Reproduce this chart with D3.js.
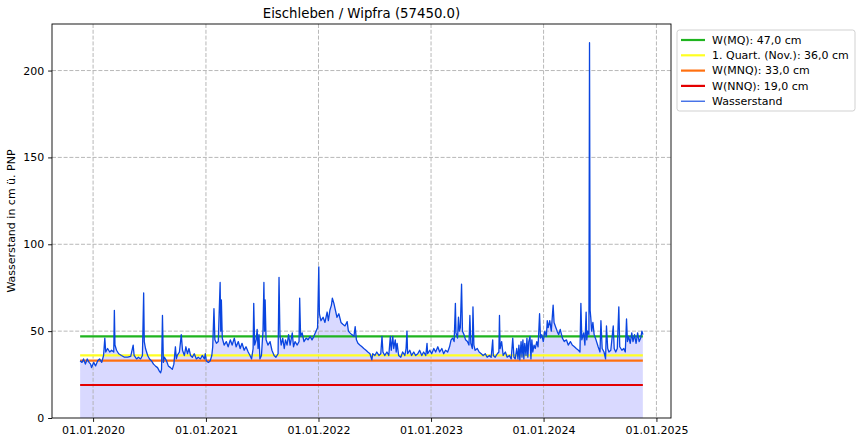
<!DOCTYPE html>
<html><head><meta charset="utf-8">
<script src="https://cdn.jsdelivr.net/npm/d3@7/dist/d3.min.js"></script>
<style>body{margin:0;background:#fff}svg{display:block;font-family:"DejaVu Sans",sans-serif}</style>
</head><body><svg id="c" width="863" height="444"></svg>
<script>
const title = "Eischleben / Wipfra (57450.0)";
const yLabel = "Wasserstand in cm ü. PNP";
const xTickDates = ["2020-01-01","2021-01-01","2022-01-01","2023-01-01","2024-01-01","2025-01-01"];
const yTicks = [0,50,100,150,200];
const refNames = ["W(MQ): 47,0 cm","1. Quart. (Nov.): 36,0 cm","W(MNQ): 33,0 cm","W(NNQ): 19,0 cm"];
const refValues = [47,36,33,19];
const refColors = ["#1fb41f","#ffff22","#ff7010","#e40000"];
const seriesName = "Wasserstand";
const dates = ["2019-11-20","2019-11-26","2019-12-01","2019-12-07","2019-12-13","2019-12-19","2019-12-24","2019-12-27","2020-01-03","2020-01-09","2020-01-16","2020-01-22","2020-01-29","2020-02-04","2020-02-08","2020-02-11","2020-02-17","2020-02-24","2020-03-01","2020-03-08","2020-03-10","2020-03-12","2020-03-17","2020-03-24","2020-04-02","2020-04-12","2020-04-22","2020-05-02","2020-05-10","2020-05-13","2020-05-21","2020-05-27","2020-06-03","2020-06-09","2020-06-13","2020-06-15","2020-06-19","2020-06-26","2020-07-02","2020-07-08","2020-07-15","2020-07-21","2020-07-28","2020-08-03","2020-08-07","2020-08-10","2020-08-13","2020-08-16","2020-08-19","2020-08-26","2020-09-01","2020-09-08","2020-09-14","2020-09-19","2020-09-24","2020-09-27","2020-09-30","2020-10-07","2020-10-13","2020-10-17","2020-10-23","2020-10-28","2020-11-02","2020-11-07","2020-11-12","2020-11-18","2020-11-24","2020-12-01","2020-12-07","2020-12-14","2020-12-20","2020-12-27","2020-12-30","2021-01-02","2021-01-09","2021-01-15","2021-01-20","2021-01-23","2021-01-27","2021-01-30","2021-02-04","2021-02-10","2021-02-16","2021-02-18","2021-02-20","2021-02-23","2021-03-01","2021-03-08","2021-03-14","2021-03-21","2021-03-27","2021-04-03","2021-04-09","2021-04-16","2021-04-22","2021-04-28","2021-05-05","2021-05-11","2021-05-18","2021-05-24","2021-05-29","2021-06-03","2021-06-05","2021-06-08","2021-06-13","2021-06-16","2021-06-19","2021-06-22","2021-06-25","2021-06-30","2021-07-05","2021-07-08","2021-07-10","2021-07-12","2021-07-15","2021-07-21","2021-07-28","2021-08-03","2021-08-10","2021-08-16","2021-08-23","2021-08-26","2021-08-29","2021-09-02","2021-09-07","2021-09-12","2021-09-16","2021-09-21","2021-09-26","2021-10-01","2021-10-08","2021-10-12","2021-10-17","2021-10-24","2021-10-30","2021-11-01","2021-11-04","2021-11-09","2021-11-15","2021-11-22","2021-11-28","2021-12-05","2021-12-11","2021-12-17","2021-12-24","2021-12-29","2022-01-02","2022-01-04","2022-01-09","2022-01-16","2022-01-22","2022-01-29","2022-02-02","2022-02-07","2022-02-12","2022-02-15","2022-02-20","2022-02-25","2022-03-02","2022-03-08","2022-03-15","2022-03-21","2022-03-28","2022-04-04","2022-04-08","2022-04-13","2022-04-19","2022-04-26","2022-04-30","2022-05-04","2022-05-09","2022-05-15","2022-05-22","2022-05-28","2022-06-04","2022-06-10","2022-06-17","2022-06-23","2022-06-26","2022-07-03","2022-07-09","2022-07-16","2022-07-22","2022-07-26","2022-07-29","2022-08-04","2022-08-11","2022-08-17","2022-08-22","2022-08-25","2022-08-30","2022-09-02","2022-09-07","2022-09-10","2022-09-13","2022-09-18","2022-09-25","2022-10-01","2022-10-08","2022-10-12","2022-10-15","2022-10-17","2022-10-24","2022-10-30","2022-11-06","2022-11-12","2022-11-19","2022-11-25","2022-12-02","2022-12-08","2022-12-15","2022-12-19","2022-12-21","2022-12-28","2023-01-03","2023-01-10","2023-01-16","2023-01-23","2023-01-29","2023-02-05","2023-02-11","2023-02-17","2023-02-24","2023-03-02","2023-03-07","2023-03-12","2023-03-17","2023-03-21","2023-03-23","2023-03-28","2023-03-31","2023-04-03","2023-04-06","2023-04-10","2023-04-13","2023-04-18","2023-04-23","2023-04-29","2023-05-04","2023-05-07","2023-05-10","2023-05-15","2023-05-17","2023-05-20","2023-05-24","2023-05-31","2023-06-06","2023-06-13","2023-06-19","2023-06-26","2023-07-02","2023-07-09","2023-07-15","2023-07-20","2023-07-22","2023-07-28","2023-08-04","2023-08-09","2023-08-11","2023-08-13","2023-08-18","2023-08-23","2023-08-30","2023-09-05","2023-09-12","2023-09-18","2023-09-23","2023-09-27","2023-10-01","2023-10-06","2023-10-10","2023-10-13","2023-10-16","2023-10-20","2023-10-23","2023-10-26","2023-10-29","2023-11-01","2023-11-05","2023-11-08","2023-11-11","2023-11-14","2023-11-18","2023-11-21","2023-11-24","2023-11-27","2023-12-01","2023-12-05","2023-12-10","2023-12-14","2023-12-17","2023-12-19","2023-12-22","2023-12-26","2023-12-31","2024-01-05","2024-01-10","2024-01-13","2024-01-16","2024-01-21","2024-01-26","2024-02-01","2024-02-04","2024-02-10","2024-02-14","2024-02-19","2024-02-24","2024-03-02","2024-03-08","2024-03-15","2024-03-21","2024-03-28","2024-04-03","2024-04-10","2024-04-16","2024-04-23","2024-04-28","2024-05-01","2024-05-04","2024-05-10","2024-05-14","2024-05-18","2024-05-20","2024-05-23","2024-05-27","2024-05-29","2024-05-31","2024-06-02","2024-06-05","2024-06-09","2024-06-13","2024-06-19","2024-06-26","2024-07-02","2024-07-05","2024-07-09","2024-07-15","2024-07-20","2024-07-23","2024-07-27","2024-07-31","2024-08-06","2024-08-14","2024-08-17","2024-08-22","2024-08-27","2024-09-01","2024-09-04","2024-09-11","2024-09-17","2024-09-22","2024-09-26","2024-09-29","2024-10-03","2024-10-08","2024-10-13","2024-10-17","2024-10-22","2024-10-27","2024-11-01","2024-11-06","2024-11-11","2024-11-15","2024-11-18"];
const levels = [33,32,34,31,34,32,31,29,32,30,33,34,32,36,46,38,40,38,39,38,62,42,39,37,36,35,35,35.5,42,36,34,35,34,36,72,44,40,36,34,33,31,30,29,27,26,28,59,32,35,33,30,29,28,31,41,34,36,38,48,39,36,41,37,40,36,35,37,34,35,34,36,34,37,33,32,33,36,41,63,45,43,44,78,50,68,46,42,44,41,45,42,46,41,44,40,43,39,41,38,36,34,40,66,42,45,51,40,48,34,36,50,78,50,68,45,42,44,39,36,35,37,81,48,42,46,40,45,42,48,42,49,41,44,42,44,69,47,49,44,46,45,47,45,47,50,52,87,60,56,58,55,61,56,62,65,69,66,62,58,60,55,54,53,55.5,50,49,48,47,52.6,45,43,42,41,40,39,38,37,33.5,37,36,38,36,37,47,38,36,38,36,47,39,47,40,45,38,43,36,35,38,36,40,50,37,39,36,38,36,37,39,36,38,36,43,37,39,37,40,38,41,38,40,37,39,38,41,45,46,44,66,49,46,58,50,52,77,50,48,45,44,42,59,43,40,64,42,39,40,38,37,36,37,35,36,35,45,36,35,37,38,59,40,44,36,38,35,36,34,46,35,34,40,34,42,33.5,44,35,45,34,43,36,46,35,44,47,34,45,38,42,40,44,41,52,60,46,48,44,50,47,56,52,56,50,65,55,52,50,48,51,46,44,45,42,44,42,41,40,39,38,66,45,49,42,61,45,50,48,216,62,58,50,55,48,45,41,38,56,40,38,34,53,40,38,39,53,40,38,40,64,41,39,40,38,57,44,47,43,49,44,48,43,49,44,46,50,48];

const parse = d3.timeParse("%Y-%m-%d");
const data = dates.map((d,i)=>({t:parse(d), v:levels[i]}));

const svg = d3.select("#c");
const L=52, R=671, T=24, B=418;
const FS = 11;
const t0 = data[0].t, t1 = data[data.length-1].t;
const span = t1 - t0;
const x = d3.scaleTime().domain([new Date(+t0 - span*0.05), new Date(+t1 + span*0.05)]).range([L,R]);
const vmax = d3.max(levels);
const y = d3.scaleLinear().domain([0, vmax*1.05]).range([B,T]);

// fill
svg.append("path").datum(data)
  .attr("d", d3.area().x(d=>x(d.t)).y0(y(0)).y1(d=>y(d.v)))
  .attr("fill","rgba(0,0,255,0.15)");

// grid
const xt = xTickDates.map(parse);
const gridStyle = s => s.attr("stroke","#b0b0b0").attr("stroke-width",0.9).attr("stroke-dasharray","4,1.8");
svg.append("g").selectAll("line").data(xt).join("line")
  .attr("x1",d=>x(d)).attr("x2",d=>x(d)).attr("y1",T).attr("y2",B).call(gridStyle);
svg.append("g").selectAll("line").data(yTicks.filter(v=>v>0)).join("line")
  .attr("x1",L).attr("x2",R).attr("y1",d=>y(d)).attr("y2",d=>y(d)).call(gridStyle);

// reference lines
refValues.forEach((v,i)=>{
  svg.append("line").attr("x1",x(t0)).attr("x2",x(t1)).attr("y1",y(v)).attr("y2",y(v))
    .attr("stroke",refColors[i]).attr("stroke-width",2.2);
});

// series
svg.append("path").datum(data)
  .attr("d", d3.line().x(d=>x(d.t)).y(d=>y(d.v)))
  .attr("fill","none").attr("stroke","#0a45e0").attr("stroke-width",1.3).attr("stroke-linejoin","round");

// axes
const xAxis = d3.axisBottom(x).tickValues(xt).tickFormat(d3.timeFormat("%d.%m.%Y")).tickSizeOuter(0).tickSize(3.9).tickPadding(3.9);
const gx = svg.append("g").attr("transform",`translate(0,${B})`).call(xAxis);
const yAxis = d3.axisLeft(y).tickValues(yTicks).tickSizeOuter(0).tickSize(3.9).tickPadding(3.9);
const gy = svg.append("g").attr("transform",`translate(${L},0)`).call(yAxis);
[gx,gy].forEach(g=>{
  g.select(".domain").remove();
  g.selectAll("text").attr("font-size",FS).attr("font-family","DejaVu Sans").attr("fill","#000");
  g.selectAll("line").attr("stroke","#000").attr("stroke-width",0.9);
});
svg.append("rect").attr("x",L).attr("y",T).attr("width",R-L).attr("height",B-T)
  .attr("fill","none").attr("stroke","#000").attr("stroke-width",0.9);

// title & label
svg.append("text").attr("x",(L+R)/2).attr("y",18).attr("text-anchor","middle")
  .attr("font-size",13.3).text(title);
svg.append("text").attr("transform",`translate(15,${(T+B)/2}) rotate(-90)`).attr("text-anchor","middle")
  .attr("font-size",FS).text(yLabel);

// legend
const lg = svg.append("g");
lg.append("rect").attr("x",677).attr("y",30).attr("width",178).attr("height",81).attr("rx",2.5)
  .attr("fill","#fff").attr("fill-opacity",0.8).attr("stroke","#cccccc").attr("stroke-width",0.9);
const items = refNames.map((n,i)=>({n, c:refColors[i], w:2.2})).concat([{n:seriesName,c:"#0a45e0",w:1.1}]);
items.forEach((it,i)=>{
  const cy = 40 + i*15.3;
  lg.append("line").attr("x1",681).attr("x2",705).attr("y1",cy).attr("y2",cy).attr("stroke",it.c).attr("stroke-width",it.w);
  lg.append("text").attr("x",712).attr("y",cy).attr("dy","0.35em").attr("font-size",FS).text(it.n);
});
</script></body></html>
